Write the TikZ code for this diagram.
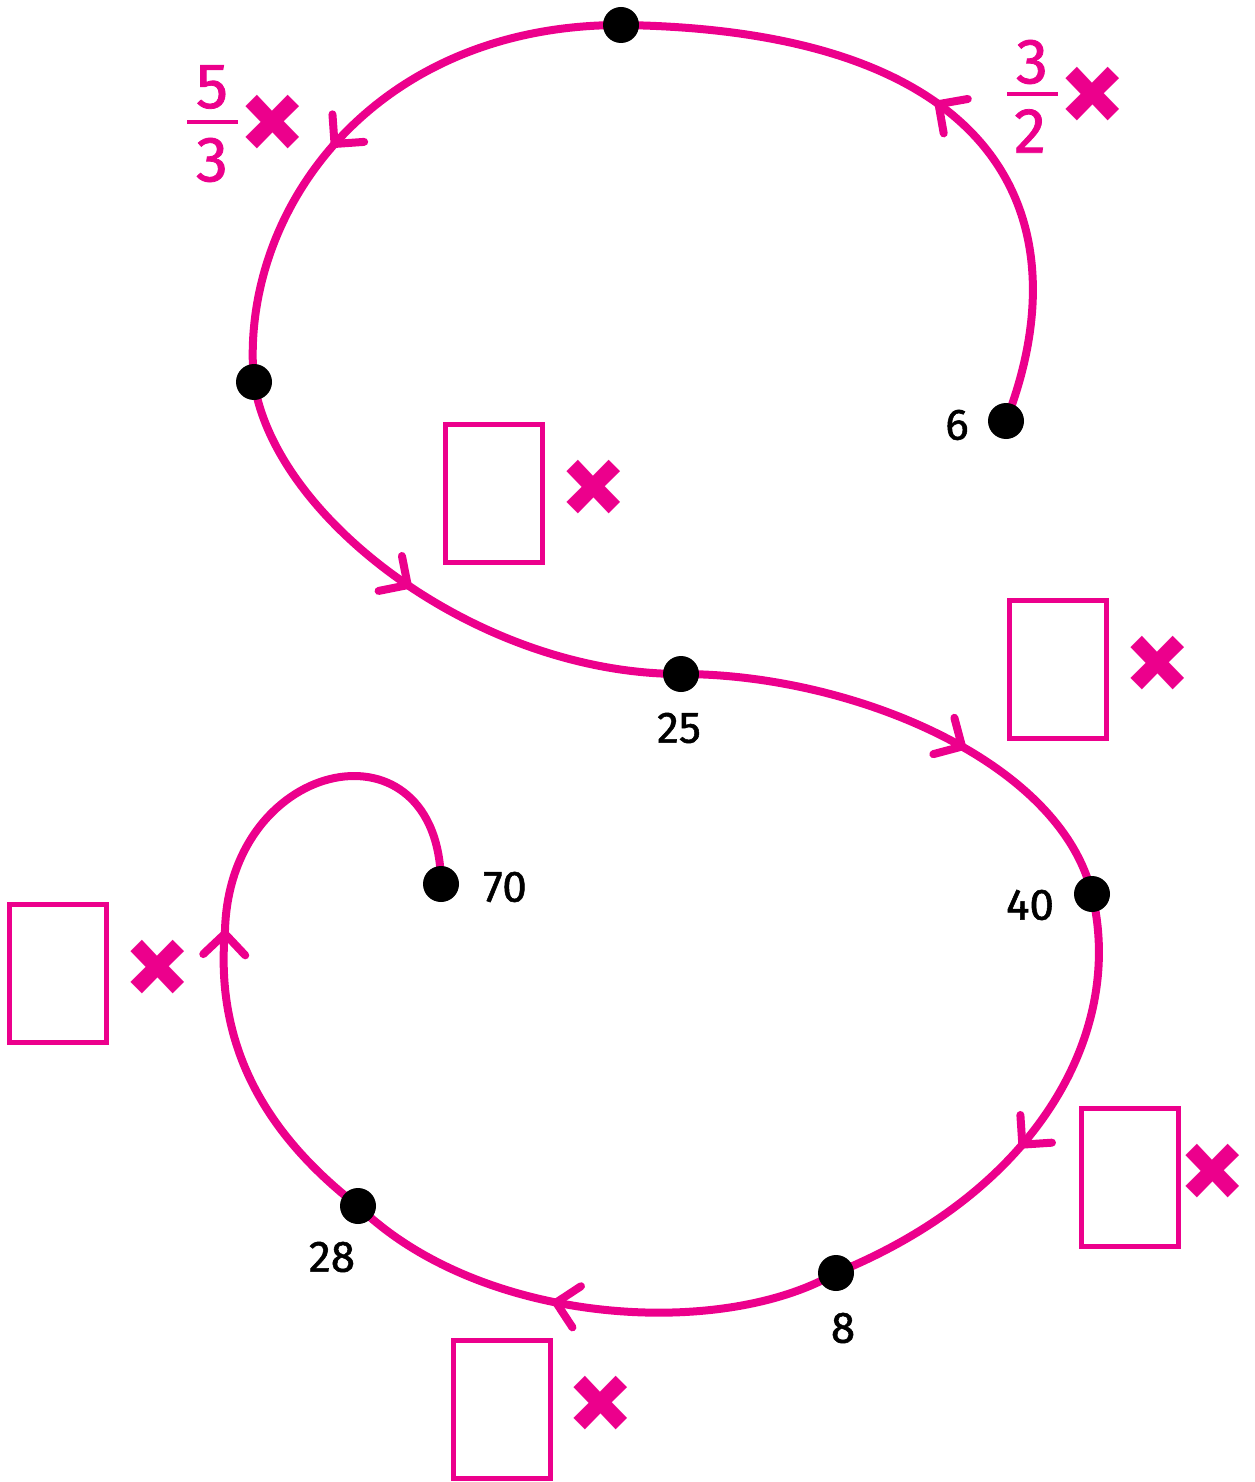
\documentclass[tikz,border=0pt]{standalone}
\usepackage{fontspec}
\setmainfont{Fira Sans}
\newfontfamily\heavyish{Fira Sans}[FakeBold=1.2]
\usetikzlibrary{arrows.meta,decorations.markings,backgrounds}
\definecolor{mag}{RGB}{236,0,140}
\tikzset{
  curve/.style={draw=mag, line width=4pt, line cap=round},
  barbtip/.tip={Straight Barb[length=10.5pt,width=21pt,round]},
  arrowat/.style={postaction={decorate,decoration={markings,mark=at position #1 with {\arrow[mag]{barbtip}}}}},
  dot/.style={circle, fill=black, minimum size=18pt, inner sep=0pt},
  lab/.style={font=\heavyish\fontsize{22}{24}\selectfont, text=black, inner sep=0pt},
  fracnum/.style={font=\heavyish\fontsize{32}{34}\selectfont, text=mag, inner sep=0pt},
  fracbar/.style={draw=mag, line width=2pt},
  times/.style={font=\fontsize{66}{68}\selectfont\bfseries, text=mag, inner sep=0pt},
  ansbox/.style={draw=mag, line width=2.5pt, minimum width=48.5pt, minimum height=69pt, inner sep=0pt},
}
\begin{document}
\begin{tikzpicture}[x=0.5pt,y=-0.5pt]
\useasboundingbox (0,0) rectangle (1254,1482);
% dots
\node[dot] (d6) at (1006,421) {};
\node[dot] (dtop) at (621,25) {};
\node[dot] (dleft) at (254,382) {};
\node[dot] (d25) at (681,674) {};
\node[dot] (d40) at (1092,894) {};
\node[dot] (d8) at (836,1273) {};
\node[dot] (d28) at (358,1206) {};
\node[dot] (d70) at (441,884) {};
% curve
\begin{scope}[on background layer]
\draw[curve, arrowat=0.52] (d6.center) .. controls (1082,225) and (1010,30) .. (dtop.center);
\draw[curve, arrowat=0.56] (dtop.center) .. controls (370,25) and (238,215) .. (dleft.center);
\draw[curve, arrowat=0.48] (dleft.center) .. controls (275,520) and (480,674) .. (d25.center);
\draw[curve, arrowat=0.6] (d25.center) .. controls (850,674) and (1060,760) .. (d40.center);
\draw[curve, arrowat=0.55] (d40.center) .. controls (1125,1030) and (1040,1190) .. (d8.center);
\draw[curve, arrowat=0.57] (d8.center) .. controls (720,1340) and (480,1325) .. (d28.center);
\draw[curve, arrowat=0.46] (d28.center) .. controls (260,1130) and (215,1040) .. (225,930)
   .. controls (230,755) and (440,715) .. (d70.center);
\end{scope}
% labels
\node[lab] (l6) at (957,425) {6};
\node[lab] (l25) at (679,728) {25};
\node[lab] (l70) at (505,887) {70};
\node[lab] (l40) at (1030,905) {40};
\node[lab] (l8) at (843,1328) {8};
\node[lab] (l28) at (332,1257) {28};
% fractions
\node[fracnum] (f1n) at (212,87) {5};
\draw[fracbar] (187,122) -- (238,122);
\node[fracnum] (f1d) at (212,160) {3};
\node[times] (x1) at (273,129) {×};
\node[fracnum] (f2n) at (1032,62) {3};
\draw[fracbar] (1007,94) -- (1058,94);
\node[fracnum] (f2d) at (1030,131) {2};
\node[times] (x2) at (1093,101) {×};
% boxes
\node[ansbox] (b1) at (494,493.5) {};
\node[times] (x3) at (594,494) {×};
\node[ansbox] (b2) at (1058,669.5) {};
\node[times] (x4) at (1158,670) {×};
\node[ansbox] (b3) at (58,973.5) {};
\node[times] (x5) at (158,974) {×};
\node[ansbox] (b4) at (1130,1177.5) {};
\node[times] (x6) at (1213,1178) {×};
\node[ansbox] (b5) at (502,1409.5) {};
\node[times] (x7) at (601,1410) {×};
\end{tikzpicture}
\end{document}
